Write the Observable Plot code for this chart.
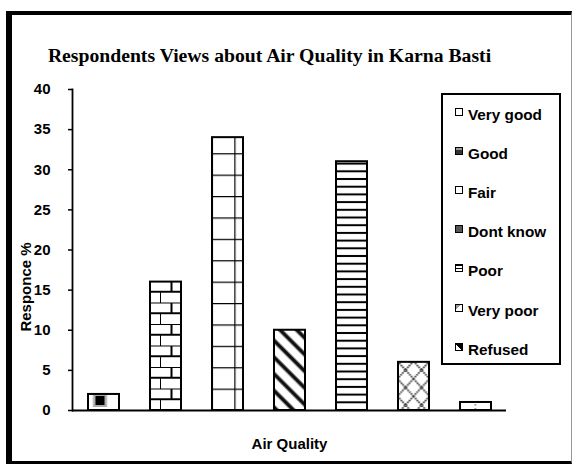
<!DOCTYPE html>
<html><head><meta charset="utf-8">
<script src="https://cdn.jsdelivr.net/npm/d3@7"></script>
<script src="https://cdn.jsdelivr.net/npm/@observablehq/plot@0.6"></script>
<style>
html,body{margin:0;padding:0;background:#fff;}
#wrap{position:absolute;left:6px;top:11px;width:559px;height:446px;border-left:6px solid #000;border-top:4px solid #000;border-bottom:3px solid #000;border-right:1px solid #999;background:#fff;}
#title{height:20px;padding-top:30px;margin-bottom:10px;padding-right:44px;text-align:center;font-family:"Liberation Serif","Times New Roman",serif;font-weight:bold;font-size:19.7px;line-height:20px;color:#000;white-space:nowrap;}
#chart svg{display:block;}
#legend{position:absolute;left:429px;top:78px;width:120px;height:272px;box-sizing:border-box;border:2px solid #000;background:#fff;padding-top:0px;}
.item{height:39.2px;display:flex;align-items:center;padding-left:12px;font-family:"Liberation Sans",Arial,sans-serif;font-weight:bold;font-size:15.3px;color:#000;white-space:nowrap;}
.sw{width:6px;height:6px;border:1.5px solid #000;margin-right:5px;position:relative;top:-3px;}
</style>
</head><body>
<div id="wrap">
  <div id="title"></div>
  <div id="chart"></div>
  <div id="legend"></div>
</div>
<script>
const titleText = "Respondents Views about Air Quality in Karna Basti";
const categories = ["Very good", "Good", "Fair", "Dont know", "Poor", "Very poor", "Refused"];
const values = [2, 16, 34, 10, 31, 6, 1];
const yTicks = [0, 5, 10, 15, 20, 25, 30, 35, 40];
const yLabel = "Responce %";
const xLabel = "Air Quality";

const data = categories.map((c, i) => ({category: c, value: values[i], idx: i}));

document.getElementById("title").textContent = titleText;

const plot = Plot.plot({
  width: 559,
  height: 386,
  marginLeft: 60,
  marginRight: 65,
  marginTop: 14,
  marginBottom: 51,
  style: {fontFamily: "'Liberation Sans', Arial, sans-serif", fontSize: "15px", fontWeight: "bold", color: "#000", background: "transparent"},
  x: {domain: categories, paddingInner: 0.5, paddingOuter: 0.25},
  y: {domain: [0, 40]},
  color: {type: "identity"},
  marks: [
    Plot.barY(data, {x: "category", y: "value", fill: d => `url(#pat${d.idx})`, stroke: "#000", strokeWidth: 2}),
    Plot.frame({anchor: "left", stroke: "#000", strokeWidth: 1.8}),
    Plot.ruleY([0], {stroke: "#000", strokeWidth: 1.8}),
    Plot.axisY({ticks: yTicks, tickSize: 4, tickPadding: 18, strokeWidth: 1.5, label: null}),
    Plot.text([yLabel], {text: d => d, frameAnchor: "left", textAnchor: "middle", rotate: -90, dx: -46, dy: 37, fontWeight: "bold", fontSize: 15, fill: "#000"}),
    Plot.axisX({tickSize: 0, tickFormat: () => "", label: xLabel, labelArrow: "none", labelAnchor: "center", labelOffset: 38})
  ]
});
document.getElementById("chart").appendChild(plot);

// pattern definitions
const svg = d3.select(plot);
const defs = svg.insert("defs", ":first-child");

// 0: Very good - white with central black square
let p = defs.append("pattern").attr("id", "pat0").attr("patternUnits", "userSpaceOnUse")
  .attr("x", 75.5).attr("y", 317).attr("width", 31).attr("height", 20);
p.append("rect").attr("width", 31).attr("height", 20).attr("fill", "#fff");
p.append("rect").attr("x", 5.5).attr("y", 2).attr("width", 14).attr("height", 13).attr("fill", "#aaa");
p.append("rect").attr("x", 8).attr("y", 4).attr("width", 9).attr("height", 9).attr("fill", "#000");

// 1: Good - brick
p = defs.append("pattern").attr("id", "pat1").attr("patternUnits", "userSpaceOnUse")
  .attr("x", 148).attr("y", 335).attr("width", 23).attr("height", 21.5);
p.append("rect").attr("width", 23).attr("height", 21.5).attr("fill", "#fff");
p.append("path").attr("d", "M0,0H23M0,10.75H23M11.5,0V10.75M0,10.75V21.5").attr("stroke", "#000").attr("stroke-width", 2).attr("fill", "none");

// 2: Fair - large grid
p = defs.append("pattern").attr("id", "pat2").attr("patternUnits", "userSpaceOnUse")
  .attr("x", 222.3).attr("y", 335).attr("width", 23).attr("height", 21.4);
p.append("rect").attr("width", 23).attr("height", 21.4).attr("fill", "#fff");
p.append("path").attr("d", "M0,0H23M0,0V21.4").attr("stroke", "#000").attr("stroke-width", 2.4).attr("fill", "none");

// 3: Dont know - wide diagonal stripes
p = defs.append("pattern").attr("id", "pat3").attr("patternUnits", "userSpaceOnUse")
  .attr("width", 11.8).attr("height", 11.8).attr("patternTransform", "rotate(45)");
p.append("rect").attr("width", 11.8).attr("height", 11.8).attr("fill", "#fff");
p.append("rect").attr("y", 0).attr("width", 11.8).attr("height", 5).attr("fill", "#999");
p.append("rect").attr("y", 1).attr("width", 11.8).attr("height", 3).attr("fill", "#111");

// 4: Poor - horizontal stripes
p = defs.append("pattern").attr("id", "pat4").attr("patternUnits", "userSpaceOnUse")
  .attr("x", 0).attr("y", 335).attr("width", 10).attr("height", 7.7);
p.append("rect").attr("width", 10).attr("height", 7.7).attr("fill", "#fff");
p.append("rect").attr("y", -1).attr("width", 10).attr("height", 2).attr("fill", "#000");
p.append("rect").attr("y", 6.7).attr("width", 10).attr("height", 2).attr("fill", "#000");

// 5: Very poor - diamond crosshatch (dotted)
p = defs.append("pattern").attr("id", "pat5").attr("patternUnits", "userSpaceOnUse")
  .attr("x", 385.5).attr("y", 286.25).attr("width", 16).attr("height", 17.5);
p.append("rect").attr("width", 16).attr("height", 17.5).attr("fill", "#fff");
p.append("path").attr("d", "M0,0L16,17.5M16,0L0,17.5").attr("stroke", "#333").attr("stroke-width", 1.8).attr("stroke-dasharray", "1.6 0.9").attr("fill", "none");

// 6: Refused - sparse dots
p = defs.append("pattern").attr("id", "pat6").attr("patternUnits", "userSpaceOnUse")
  .attr("x", 447.5).attr("y", 0).attr("width", 31).attr("height", 4);
p.append("rect").attr("width", 31).attr("height", 4).attr("fill", "#fff");
p.append("rect").attr("x", 15).attr("y", 1).attr("width", 1.6).attr("height", 1.6).attr("fill", "#888");

// legend
const swatchBg = [
  "#fff",
  "linear-gradient(#999 0 35%, #333 35%)",
  "#fff",
  "#555",
  "repeating-linear-gradient(#000 0 1.5px, #fff 1.5px 3px)",
  "linear-gradient(135deg, #999 0 35%, #fff 35%)",
  "linear-gradient(45deg, #fff 0 45%, #000 45%)"
];
const legend = d3.select("#legend");
categories.forEach((c, i) => {
  const it = legend.append("div").attr("class", "item");
  it.append("div").attr("class", "sw").style("background", swatchBg[i]);
  it.append("span").text(c);
});
</script>
</body></html>
